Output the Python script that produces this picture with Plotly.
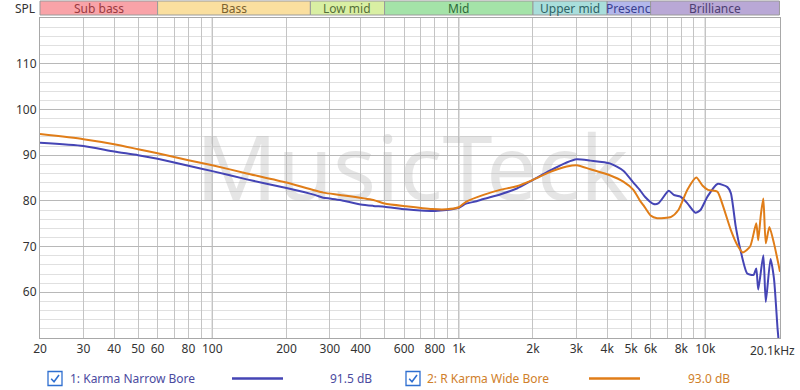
import math
import plotly.graph_objects as go

# ---------------- data ----------------
narrow_freq = [20, 30, 40, 50, 60, 80, 100, 138, 200, 260, 282, 300, 330, 400, 450, 500, 610, 700, 800,
               890, 1000, 1070, 1180, 1260, 1470, 1720, 2000, 2340, 2740, 3010, 3420, 4100, 4650, 5110,
               5440, 5690, 6180, 6470, 7110, 7450, 7930, 8450, 9120, 9560, 10200, 11200, 12300, 12700,
               13300, 13900, 14800, 15700, 16100, 16400, 17200, 17600, 18400, 19000, 19650, 20100]
narrow_db = [92.7, 92.0, 90.8, 90.0, 89.2, 87.7, 86.5, 84.7, 82.8, 81.3, 80.7, 80.5, 80.2, 79.2, 78.9,
             78.7, 78.15, 77.9, 77.8, 78.0, 78.5, 79.4, 79.9, 80.4, 81.4, 82.7, 84.6, 86.6, 88.4, 89.1,
             88.8, 88.2, 86.6, 84.0, 82.3, 80.9, 79.3, 79.5, 82.2, 81.3, 80.9, 79.5, 77.4, 78.0, 80.9,
             83.7, 83.0, 81.7, 74.3, 69.2, 64.1, 63.8, 65.2, 60.6, 68.1, 57.9, 67.3, 63.0, 52.0, 46.0]

wide_freq = [20, 30, 40, 50, 60, 80, 100, 138, 200, 282, 330, 450, 500, 610, 780, 890, 1000, 1070,
             1260, 1470, 1720, 2000, 2340, 2740, 3010, 3420, 4100, 4650, 5110, 5440, 5620, 6000, 6380,
             7270, 7780, 8450, 9200, 9760, 10250, 11200, 11700, 12700, 13500, 14200, 15200, 16100,
             16400, 16800, 17200, 17600, 18200, 19000, 20100]
wide_db = [94.6, 93.5, 92.4, 91.3, 90.4, 88.9, 87.8, 86.0, 84.0, 81.8, 81.3, 80.2, 79.4, 78.8, 78.2,
           78.15, 78.6, 79.8, 81.3, 82.4, 83.2, 84.6, 86.3, 87.5, 87.8, 86.9, 85.6, 84.2, 82.4, 80.0,
           79.0, 76.8, 76.2, 76.5, 78.0, 82.4, 85.1, 83.3, 82.4, 82.0, 79.5, 73.6, 70.3, 68.7, 70.0,
           75.1, 71.4, 76.9, 80.5, 70.7, 74.3, 70.7, 64.5]

series_names = ["1: Karma Narrow Bore", "2: R Karma Wide Bore"]
series_levels = ["91.5 dB", "93.0 dB"]

band_names = ["Sub bass", "Bass", "Low mid", "Mid", "Upper mid", "Presenc", "Brilliance"]
band_edges = [20, 60, 250, 500, 2000, 4000, 6000, 20000]

x_tickvals = [20, 30, 40, 50, 60, 70, 80, 90, 100, 200, 300, 400, 500, 600, 700, 800, 900,
              1000, 2000, 3000, 4000, 5000, 6000, 7000, 8000, 9000, 10000, 20000]
x_ticktext = ["20", "30", "40", "50", "60", "", "80", "", "100", "200", "300", "400", "", "600", "",
              "800", "", "1k", "2k", "3k", "4k", "5k", "6k", "", "8k", "", "10k", ""]
x_end_label = "20.1kHz"
y_tickvals = [60, 70, 80, 90, 100, 110]
decades = [100, 1000, 10000]

# ---------------- styles ----------------
W, H = 800, 390
L, R, T, B = 40, 20, 18, 52
PW, PH = W - L - R, H - T - B
XMIN, XMAX = 20, 20100
YMIN, YMAX = 50, 120
FONT = "Noto Sans"
BLUE = "#4545B5"
ORANGE = "#E07D18"
band_fill = ["#F9A3A8", "#FADF9F", "#D9EFA3", "#A4E3A8", "#A9DEDB", "#B3B7EB", "#B9A8D6"]
band_text = ["#9A3A40", "#7A6230", "#56703A", "#2F6B3A", "#2F6266", "#3A3F90", "#4E3F72"]


def px_x(px):
    return (px - L) / PW


def px_y(py):
    return (T + PH - py) / PH


def fx(f):
    return (math.log10(f) - math.log10(XMIN)) / (math.log10(XMAX) - math.log10(XMIN))


fig = go.Figure()

# watermark (first trace -> below curves)
fig.add_trace(go.Scatter(
    x=[646], y=[85.1], mode="text", text=["MusicTeck"],
    textfont=dict(family=FONT, size=90, color="rgba(175,175,175,0.33)"),
    hoverinfo="skip", showlegend=False))

fig.add_trace(go.Scatter(x=narrow_freq, y=narrow_db, mode="lines",
                         line=dict(color=BLUE, width=2, shape="spline", smoothing=0.6),
                         name=series_names[0], showlegend=False))
fig.add_trace(go.Scatter(x=wide_freq, y=wide_db, mode="lines",
                         line=dict(color=ORANGE, width=2, shape="spline", smoothing=0.6),
                         name=series_names[1], showlegend=False))

shapes = []
annotations = []

# decade lines (darker)
for d in decades:
    shapes.append(dict(type="line", xref="paper", yref="paper", x0=fx(d), x1=fx(d), y0=0, y1=1,
                       line=dict(color="#8A8A8A", width=1), layer="between"))

# frequency bands
for i, name in enumerate(band_names):
    x0, x1 = fx(band_edges[i]), fx(band_edges[i + 1])
    shapes.append(dict(type="rect", xref="paper", yref="paper", x0=x0, x1=x1,
                       y0=px_y(15), y1=px_y(1), fillcolor=band_fill[i],
                       line=dict(color="#9A9A9A", width=1)))
    annotations.append(dict(xref="paper", yref="paper", x=(x0 + x1) / 2, y=px_y(8),
                            text=name, showarrow=False, xanchor="center", yanchor="middle",
                            font=dict(family=FONT, size=12, color=band_text[i])))

annotations.append(dict(xref="paper", yref="paper", x=px_x(37), y=px_y(8), text="SPL",
                        showarrow=False, xanchor="right", yanchor="middle",
                        font=dict(family=FONT, size=12, color="#333333")))
annotations.append(dict(xref="paper", yref="paper", x=px_x(797), y=px_y(350), text=x_end_label,
                        showarrow=False, xanchor="right", yanchor="middle",
                        font=dict(family=FONT, size=12, color="#333333")))

# legend row
legend_items = [
    dict(box=48, text=68, line=(232, 283), lvl=328, color=BLUE, tcolor="#4B4BA0"),
    dict(box=406, text=425, line=(589, 640), lvl=686, color=ORANGE, tcolor="#D0802A"),
]
ly = 378.5
for i, it in enumerate(legend_items):
    bx = it["box"]
    shapes.append(dict(type="rect", xref="paper", yref="paper", x0=px_x(bx), x1=px_x(bx + 14),
                       y0=px_y(ly + 7), y1=px_y(ly - 7), line=dict(color="#2F6FD0", width=1.3),
                       fillcolor="white"))
    path = "M {:.5f},{:.5f} L {:.5f},{:.5f} L {:.5f},{:.5f}".format(
        px_x(bx + 3.2), px_y(ly + 0.3), px_x(bx + 6), px_y(ly + 3.2), px_x(bx + 11), px_y(ly - 3.5))
    shapes.append(dict(type="path", xref="paper", yref="paper", path=path,
                       line=dict(color="#2F6FD0", width=1.6)))
    shapes.append(dict(type="line", xref="paper", yref="paper", x0=px_x(it["line"][0]),
                       x1=px_x(it["line"][1]), y0=px_y(ly), y1=px_y(ly),
                       line=dict(color=it["color"], width=2.5)))
    annotations.append(dict(xref="paper", yref="paper", x=px_x(it["text"]), y=px_y(ly),
                            text=series_names[i], showarrow=False, xanchor="left", yanchor="middle",
                            font=dict(family=FONT, size=12, color=it["tcolor"])))
    annotations.append(dict(xref="paper", yref="paper", x=px_x(it["lvl"]), y=px_y(ly),
                            text=series_levels[i], showarrow=False, xanchor="left", yanchor="middle",
                            font=dict(family=FONT, size=12, color=it["tcolor"])))

fig.update_layout(
    width=W, height=H, margin=dict(l=L, r=R, t=T, b=B, pad=0),
    paper_bgcolor="white", plot_bgcolor="white",
    shapes=shapes, annotations=annotations, showlegend=False,
    font=dict(family=FONT, size=12, color="#333333"),
    xaxis=dict(type="log", range=[math.log10(XMIN), math.log10(XMAX)],
               tickmode="array", tickvals=x_tickvals, ticktext=x_ticktext,
               showgrid=True, gridcolor="#C4C4C4", gridwidth=1,
               showline=True, linecolor="#A8A8A8", mirror=True, ticks="", zeroline=False,
               tickfont=dict(family=FONT, size=12, color="#333333")),
    yaxis=dict(range=[YMIN, YMAX], tickmode="array", tickvals=y_tickvals,
               showgrid=True, gridcolor="#B8B8B8", gridwidth=1,
               minor=dict(dtick=2, tick0=0, showgrid=True, gridcolor="#E0E0E0", ticks=""),
               showline=True, linecolor="#A8A8A8", mirror=True, ticks="", zeroline=False,
               tickfont=dict(family=FONT, size=12, color="#333333")),
)

fig.write_html("out.html")
